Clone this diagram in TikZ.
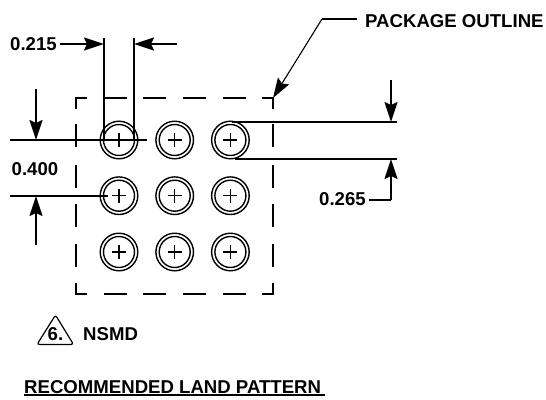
\documentclass[tikz,border=0pt]{standalone}
\usepackage{fontspec}
\setmainfont{Liberation Sans}
\usetikzlibrary{arrows.meta}
\tikzset{
  lbl/.style={font=\fontsize{18.6}{21}\selectfont\bfseries,inner sep=0pt,text=black,anchor=base west},
  dimline/.style={line width=1.7pt,line cap=butt},
  arr/.style={line width=1.7pt,-{Stealth[length=20pt,width=13pt,inset=3pt]}},
  outline/.style={line width=1.7pt},
  padout/.style={circle,draw,line width=1.4pt,minimum size=37.6pt,inner sep=0pt,fill=none},
  padin/.style={circle,draw,line width=1.4pt,minimum size=31pt,inner sep=0pt,fill=none},
  tick/.style={line width=1.4pt},
}
\begin{document}
\begin{tikzpicture}[x=1pt,y=-1pt]
\useasboundingbox (0,0) rectangle (546,399);
% pads
\foreach \c/\px in {1/119,2/174.7,3/230.4}{
  \foreach \r/\py in {1/140,2/195.7,3/252}{
    \node[padout] (po\c\r) at (\px,\py) {};
    \node[padin] (pi\c\r) at (\px,\py) {};
    \draw[tick] (\px-7,\py) -- (\px+7,\py) (\px,\py-7) -- (\px,\py+7);
  }
}
% package outline dashes
\foreach \a/\b in {75.2/87,104/127,143/166,183/206,223/246,262/273.8}{
  \draw[outline] (\a,98) -- (\b,98);
  \draw[outline] (\a,294) -- (\b,294);
}
\foreach \a/\b in {98/109,124/147,165/188,204/227,244/267,283/294}{
  \draw[outline] (76,\a) -- (76,\b);
  \draw[outline] (273,\a) -- (273,\b);
}
\coordinate (corner) at (273,98);
% 0.215
\node[lbl] (t215) at (10,50) {0.215};
\coordinate (wl) at (104,44);
\coordinate (wr) at (134,44);
\coordinate (wrt) at (177,44);
\coordinate (wstart) at (60,44);
\coordinate (wlt) at (104,38);
\coordinate (wrtop) at (134,38);
\coordinate (wlb) at (104,140);
\coordinate (wrb) at (134,140);
\draw[dimline] (wlt) -- (wlb);
\draw[dimline] (wrtop) -- (wrb);
\draw[arr] (wstart) -- (wl);
\draw[arr] (wrt) -- (wr);
% 0.400
\node[lbl] (t400) at (11.5,175) {0.400};
\coordinate (a1) at (10,140);
\coordinate (a2) at (147,140);
\coordinate (b1) at (10,196);
\coordinate (b2) at (108,196);
\coordinate (ua) at (36,89);
\coordinate (ub) at (36,140);
\coordinate (da) at (36,245);
\coordinate (db) at (36,196);
\draw[dimline] (a1) -- (a2);
\draw[dimline] (b1) -- (b2);
\draw[arr] (ua) -- (ub);
\draw[arr] (da) -- (db);
% 0.265
\coordinate (c1) at (232,122);
\coordinate (c2) at (397,122);
\coordinate (d1) at (235,159);
\coordinate (d2) at (397,159);
\coordinate (e1) at (391,80);
\coordinate (e2) at (391,122);
\coordinate (f1) at (391,200);
\coordinate (f2) at (391,159);
\coordinate (f0) at (369,200);
\draw[dimline] (c1) -- (c2);
\draw[dimline] (d1) -- (d2);
\draw[arr] (e1) -- (e2);
\node[lbl] (t265) at (319,205) {0.265};
\draw[line width=1.7pt] (f0) -- (f1);
\draw[arr] (f1) -- (f2);
% package outline leader
\node[lbl] (tpo) at (365,27) {PACKAGE OUTLINE};
\coordinate (l1) at (322,19);
\coordinate (l0) at (357,19);
\draw[line width=1.7pt] (l0) -- (l1);
\draw[line width=1.1pt,-{Stealth[length=20pt,width=13pt,inset=3pt]}] (l1) -- (corner);
% NSMD
\draw[line width=1.2pt,rounded corners=2.5pt] (55.5,315) -- (73.5,344.5) -- (37,344.5) -- cycle;
\node[lbl,anchor=base] (six) at (55.5,340) {6.};
\node[lbl] (nsmd) at (83,340) {NSMD};
% title
\node[lbl] (title) at (24,393) {RECOMMENDED LAND PATTERN};
\coordinate (ul) at (24,395);
\coordinate (ur) at (325,395);
\draw[line width=1.7pt] (ul) -- (ur);
\end{tikzpicture}
\end{document}
